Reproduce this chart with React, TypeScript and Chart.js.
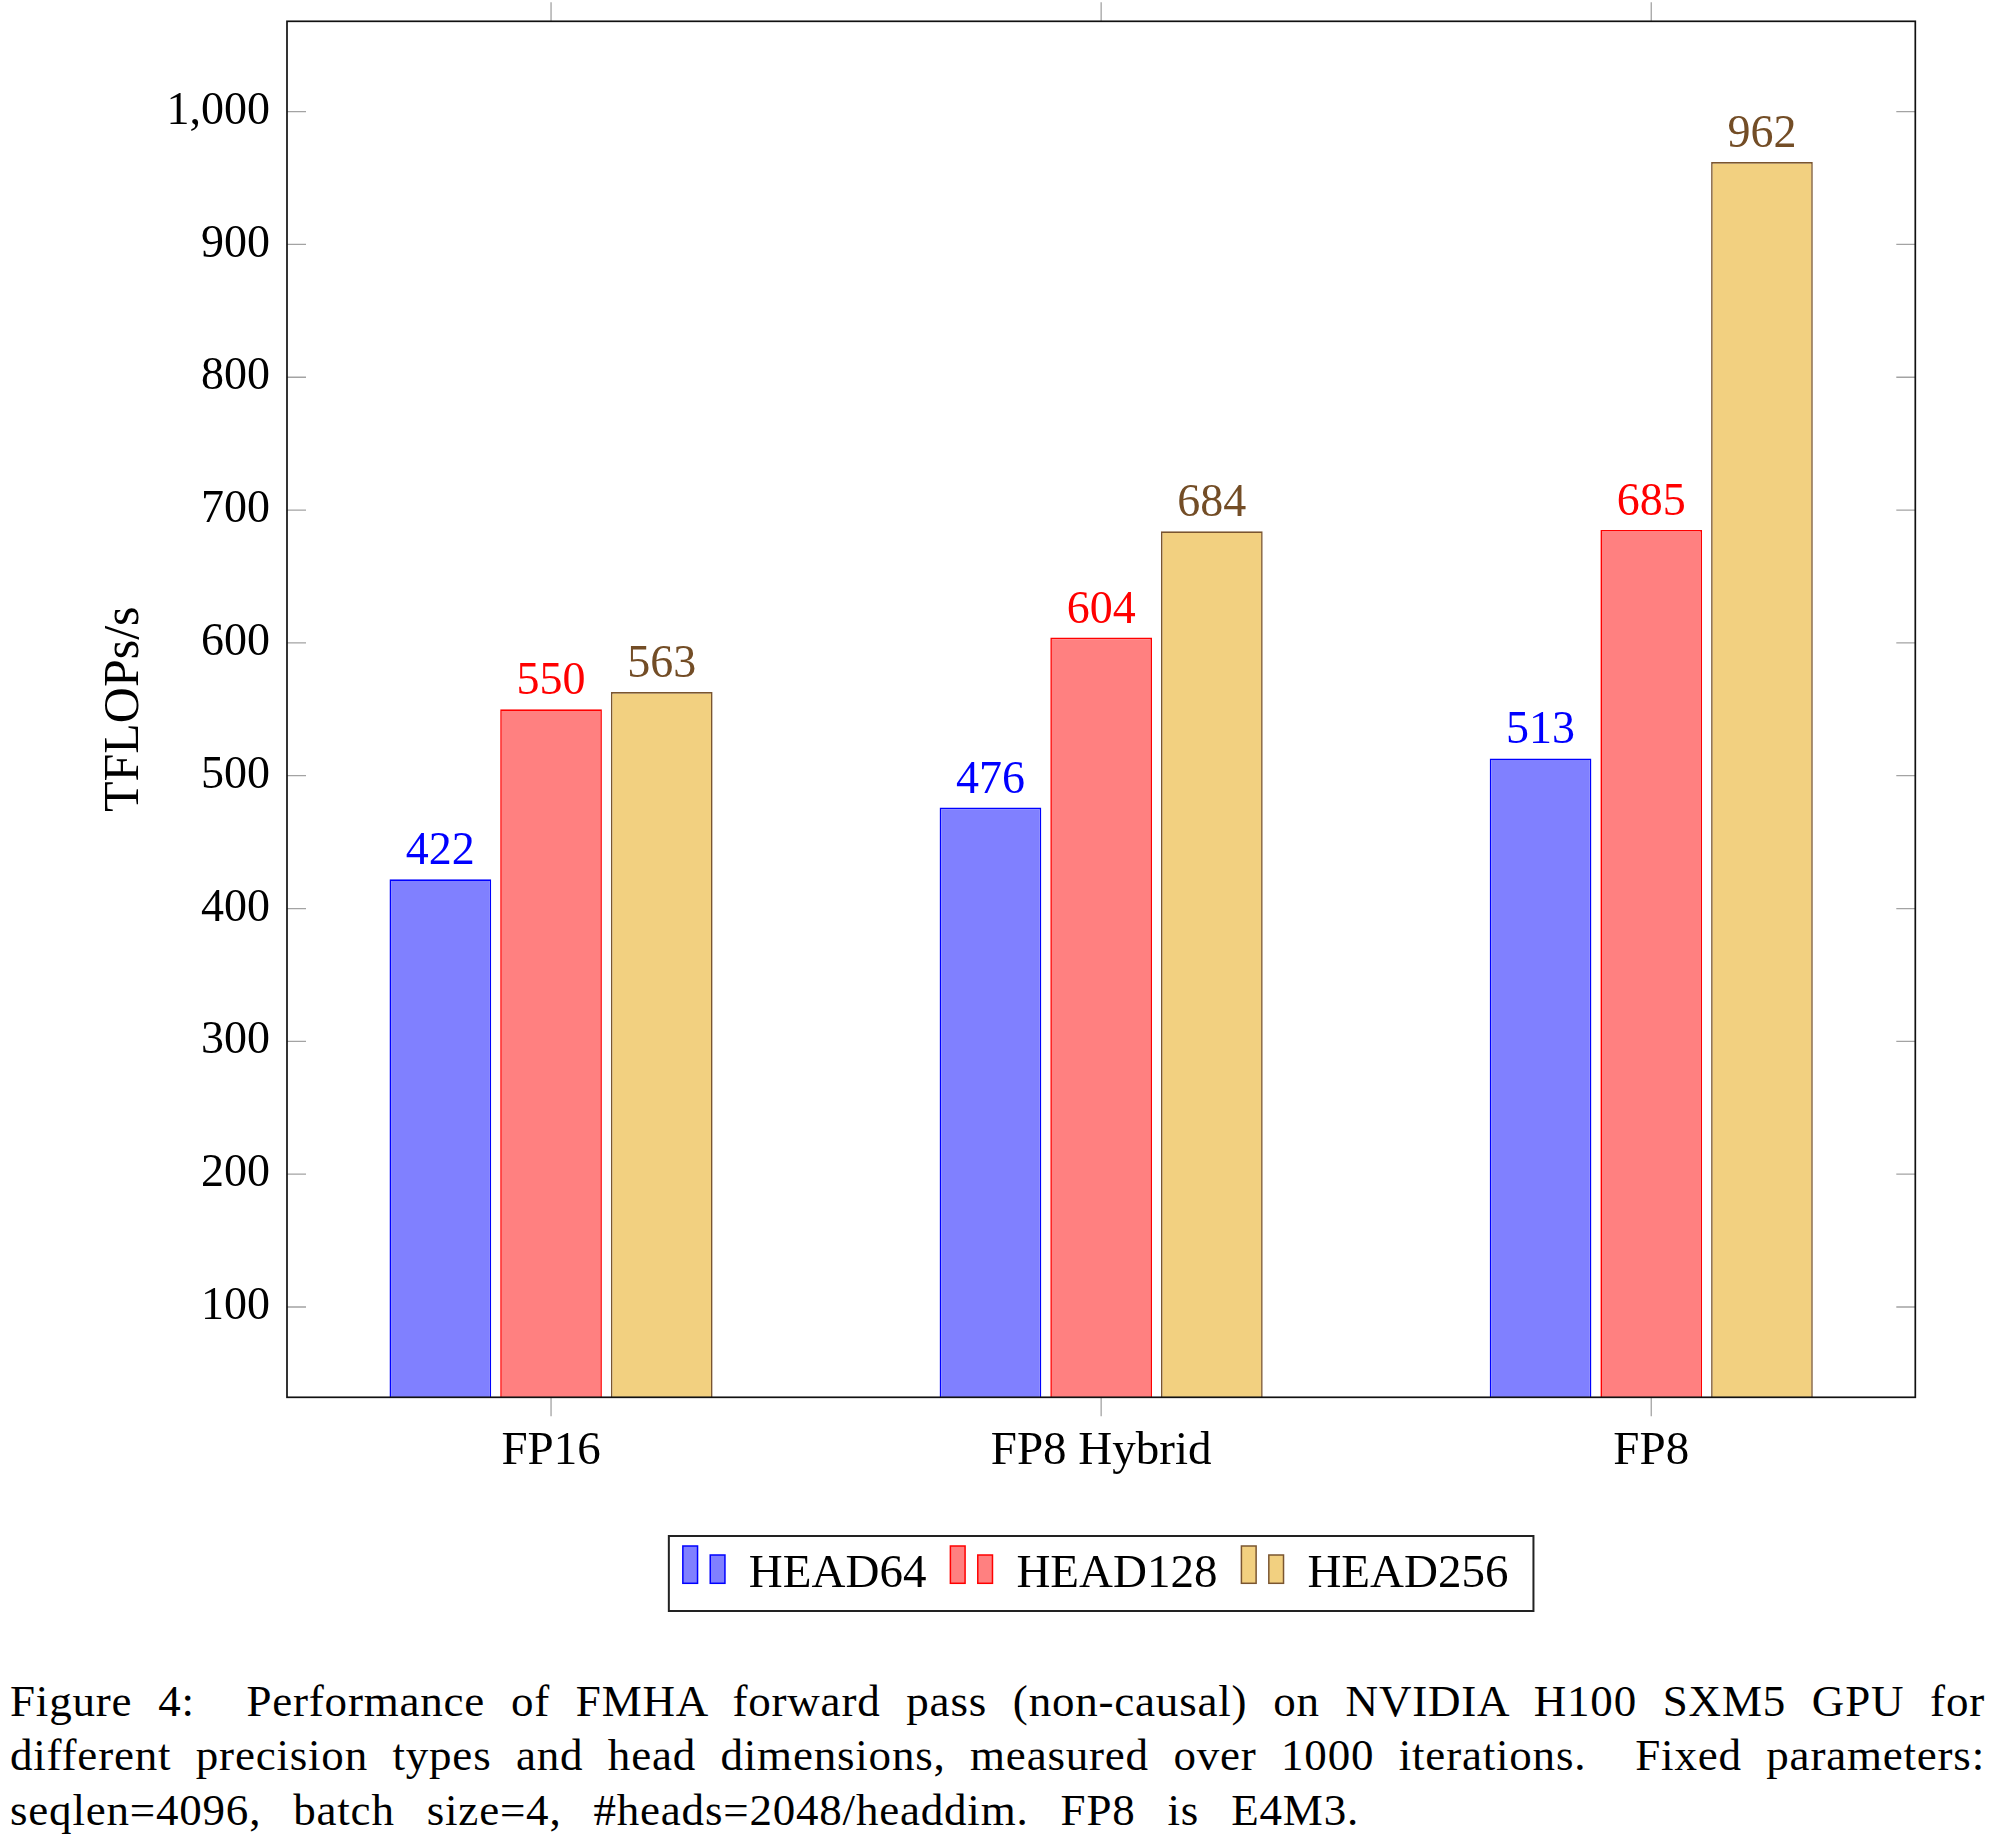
import React, { useEffect, useRef } from "react";
import { Chart, registerables } from "chart.js";

Chart.register(...registerables);

// ---- data ----
const categories = ["FP16", "FP8 Hybrid", "FP8"];
const seriesNames = ["HEAD64", "HEAD128", "HEAD256"];
const head64 = [422, 476, 513];
const head128 = [550, 604, 685];
const head256 = [563, 684, 962];
const yTicks = [100, 200, 300, 400, 500, 600, 700, 800, 900, 1000];
const yRange = [32, 1068];
const xRange = [-0.48, 2.48];
const captionLines = [
  "Figure 4:  Performance of FMHA forward pass (non-causal) on NVIDIA H100 SXM5 GPU for",
  "different precision types and head dimensions, measured over 1000 iterations.  Fixed parameters:",
  "seqlen=4096, batch size=4, #heads=2048/headdim. FP8 is E4M3.",
];

// ---- styles ----
const FONT = '"Liberation Serif", "Times New Roman", serif';
const fills = ["#8080ff", "#ff8080", "#f2d080"];
const strokes = ["#0000ff", "#ff0000", "#7a5530"];
const labelColors = ["#0000ff", "#ff0000", "#734d26"];
const seriesValues = [head64, head128, head256];

const decorPlugin = {
  id: "decor",
  afterDatasetsDraw(chart: any) {
    const { ctx, chartArea: a, scales } = chart;
    const xs = scales.x;
    const ys = scales.y;
    ctx.save();
    // ticks
    ctx.strokeStyle = "#a3a3a3";
    ctx.lineWidth = 1.3;
    ctx.beginPath();
    for (const v of yTicks) {
      const py = ys.getPixelForValue(v);
      ctx.moveTo(a.left, py);
      ctx.lineTo(a.left + 19, py);
      ctx.moveTo(a.right, py);
      ctx.lineTo(a.right - 19, py);
    }
    categories.forEach((_, i) => {
      const px = xs.getPixelForValue(i);
      ctx.moveTo(px, a.bottom);
      ctx.lineTo(px, a.bottom + 19);
      ctx.moveTo(px, a.top);
      ctx.lineTo(px, a.top - 19);
    });
    ctx.stroke();
    // frame
    ctx.strokeStyle = "#111";
    ctx.lineWidth = 1.7;
    ctx.strokeRect(a.left, a.top, a.right - a.left, a.bottom - a.top);

    // value labels
    ctx.font = `46px ${FONT}`;
    ctx.textAlign = "center";
    ctx.textBaseline = "alphabetic";
    chart.data.datasets.forEach((_ds: any, di: number) => {
      const meta = chart.getDatasetMeta(di);
      meta.data.forEach((el: any, i: number) => {
        ctx.fillStyle = labelColors[di];
        ctx.fillText(String(seriesValues[di][i]), el.x, el.y - 15);
      });
    });

    // legend
    ctx.font = `47px ${FONT}`;
    ctx.textAlign = "left";
    const widths = seriesNames.map((n) => ctx.measureText(n).width);
    const textOff = 66;
    const itemGap = 24;
    const padL = 14;
    const padR = 25;
    let total = 0;
    widths.forEach((w, i) => {
      total += textOff + w + (i > 0 ? itemGap : 0);
    });
    const boxW = padL + total + padR;
    const boxH = 75;
    const cx = (a.left + a.right) / 2;
    const boxLeft = cx - boxW / 2;
    const boxTop = a.bottom + 138.7;
    ctx.fillStyle = "#fff";
    ctx.fillRect(boxLeft, boxTop, boxW, boxH);
    ctx.strokeStyle = "#222";
    ctx.lineWidth = 2;
    ctx.strokeRect(boxLeft, boxTop, boxW, boxH);
    let x = boxLeft + padL;
    seriesNames.forEach((name, i) => {
      ctx.lineWidth = 1.5;
      ctx.fillStyle = fills[i];
      ctx.strokeStyle = strokes[i];
      const bottom = boxTop + 47.3;
      ctx.fillRect(x, boxTop + 10, 14.7, bottom - boxTop - 10);
      ctx.strokeRect(x, boxTop + 10, 14.7, bottom - boxTop - 10);
      ctx.fillRect(x + 27.4, boxTop + 19, 14.7, bottom - boxTop - 19);
      ctx.strokeRect(x + 27.4, boxTop + 19, 14.7, bottom - boxTop - 19);
      ctx.fillStyle = "#000";
      ctx.fillText(name, x + textOff, boxTop + 51.3);
      x += textOff + widths[i] + itemGap;
    });
    ctx.restore();
  },
};

function zeroPadding(s: any) {
  s.paddingTop = 0;
  s.paddingBottom = 0;
  s.paddingLeft = 0;
  s.paddingRight = 0;
}

export default function App() {
  const ref = useRef<HTMLCanvasElement | null>(null);

  useEffect(() => {
    if (!ref.current) return;
    const chart = new Chart(ref.current, {
      type: "bar",
      data: {
        datasets: seriesNames.map((name, di) => ({
          label: name,
          data: seriesValues[di].map((y, i) => ({ x: i, y })),
          backgroundColor: fills[di],
          borderColor: strokes[di],
          borderWidth: 1.6,
          categoryPercentage: 0.6037,
          barPercentage: 0.9187,
        })),
      },
      options: {
        animation: false,
        responsive: true,
        maintainAspectRatio: false,
        devicePixelRatio: 1,
        layout: { padding: { left: 0, right: 84.7, top: 21.3, bottom: 0 } },
        plugins: {
          legend: { display: false },
          tooltip: { enabled: false },
          title: { display: false },
        },
        scales: {
          x: {
            type: "linear",
            min: xRange[0],
            max: xRange[1],
            offset: false,
            grid: { display: false, drawTicks: false },
            border: { display: false },
            ticks: {
              font: { family: FONT, size: 47 },
              color: "#000",
              padding: 26,
              maxRotation: 0,
              autoSkip: false,
              callback: (v: any) => categories[Number(v)] ?? "",
            },
            afterBuildTicks: (s: any) => {
              s.ticks = categories.map((_, i) => ({ value: i }));
            },
            afterFit: (s: any) => {
              s.height = 252.7;
              zeroPadding(s);
            },
          },
          y: {
            type: "linear",
            min: yRange[0],
            max: yRange[1],
            grid: { display: false, drawTicks: false },
            border: { display: false },
            ticks: {
              font: { family: FONT, size: 46 },
              color: "#000",
              padding: 17,
              callback: (v: any) => Number(v).toLocaleString("en-US"),
            },
            title: {
              display: true,
              text: "TFLOPs/s",
              font: { family: FONT, size: 50 },
              color: "#000",
              padding: { top: 95, bottom: 0 },
            },
            afterBuildTicks: (s: any) => {
              s.ticks = yTicks.map((v) => ({ value: v }));
            },
            afterFit: (s: any) => {
              s.width = 287;
              zeroPadding(s);
            },
          },
        },
      },
      plugins: [decorPlugin],
    } as any);
    return () => chart.destroy();
  }, []);

  return (
    <div
      style={{
        position: "absolute",
        left: 0,
        top: 0,
        width: 2000,
        height: 1840,
        background: "#fff",
        overflow: "hidden",
      }}
    >
      <div style={{ position: "absolute", left: 0, top: 0, width: 2000, height: 1650 }}>
        <canvas ref={ref} />
      </div>
      <div
        style={{
          position: "absolute",
          left: 10,
          top: 1674,
          width: 1975,
          fontFamily: FONT,
          fontSize: 45,
          lineHeight: "54.3px",
          letterSpacing: "0.8px",
          color: "#000",
        }}
      >
        {captionLines.map((line, i) => (
          <div
            key={i}
            style={{
              whiteSpace: "pre",
              textAlign: i < captionLines.length - 1 ? "justify" : "left",
              textAlignLast: i < captionLines.length - 1 ? "justify" : "left",
              wordSpacing: i < captionLines.length - 1 ? undefined : "20px",
            }}
          >
            {line}
          </div>
        ))}
      </div>
    </div>
  );
}
